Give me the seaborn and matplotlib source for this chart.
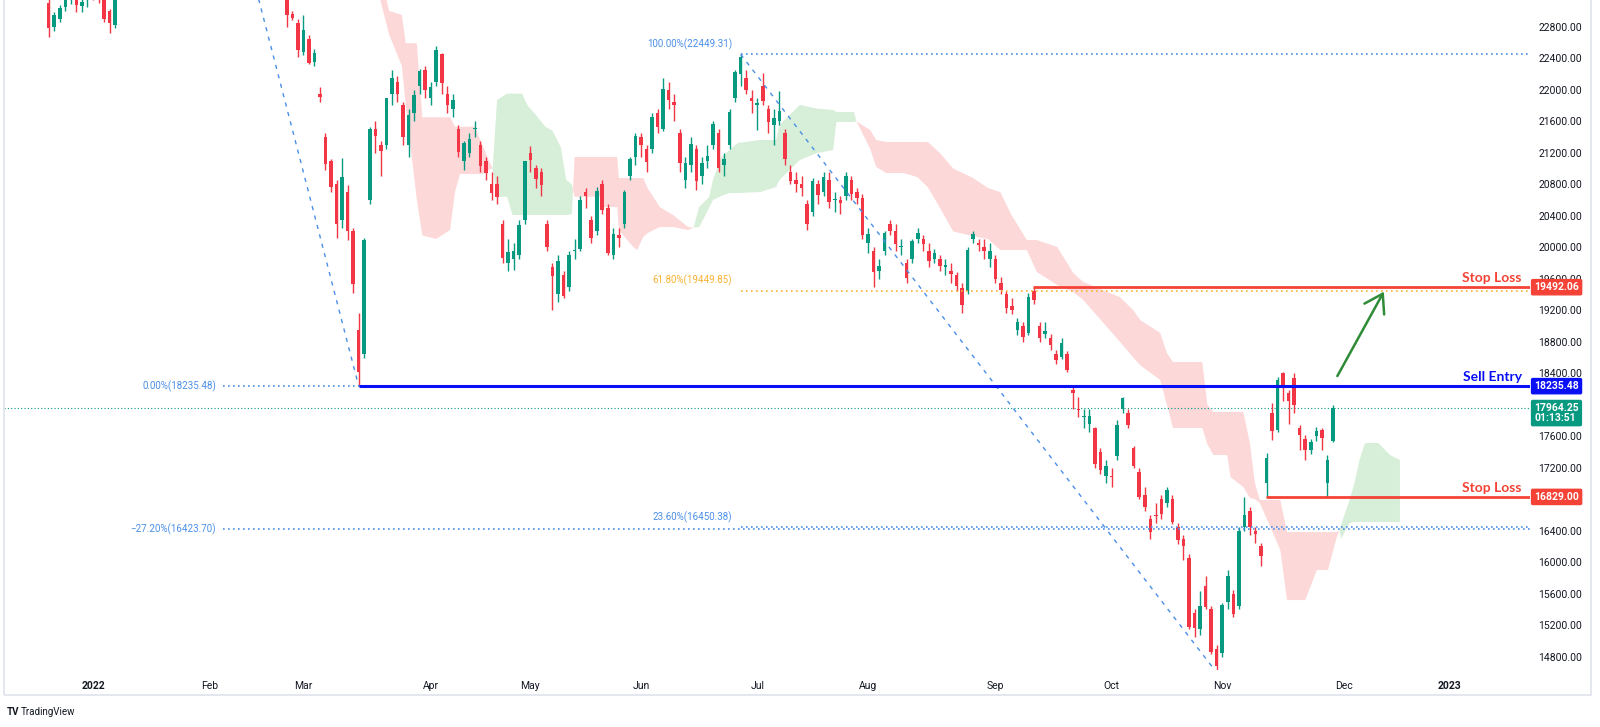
import numpy as np
import pandas as pd
import matplotlib
matplotlib.use("Agg")
import matplotlib.pyplot as plt
import matplotlib.transforms as mtransforms
from matplotlib.patches import Rectangle
import seaborn as sns

sns.set_theme(style="white")
plt.rcParams['font.family'] = ['Roboto', 'DejaVu Sans']

# ---------------- data ----------------
month_labels = ["2022", "Feb", "Mar", "Apr", "May", "Jun", "Jul", "Aug", "Sep", "Oct", "Nov", "Dec", "2023"]
month_bars = [0, 21, 38, 61, 79, 99, 120, 140, 163, 184, 204, 226, 245]
# 16800.00 and 18000.00 are hidden behind the price tags in the reference
price_ticks = [14800, 15200, 15600, 16000, 16400, 17200, 17600, 18400, 18800,
               19200, 19600, 20000, 20400, 20800, 21200, 21600, 22000, 22400, 22800]

# late Dec 2021 / early Jan 2022 bars (bar index -8 .. 4)
early_start = -8
early_open = [23100, 22790, 22900, 23050, 23220, 23250, 23060, 23150, 23420, 23300, 23250, 23000, 22820]
early_high = [23180, 22990, 23080, 23240, 23330, 23300, 23150, 23420, 23500, 23400, 23300, 23030, 23500]
early_low = [22670, 22740, 22860, 23000, 23090, 22990, 22990, 23050, 23140, 23100, 22860, 22720, 22780]
early_close = [22780, 22950, 23040, 23200, 23260, 23080, 23110, 23390, 23270, 23290, 22900, 22850, 23480]

# late Feb .. 29 Nov 2022 (bar index 35 .. 224)
main_start = 35
main_open = [23450, 22960, 22850, 22480, 22650, 22350, 21950, 21400, 21100, 20800,
             20350, 20700, 20200, 18950, 18650, 20600, 21500, 21300, 21300, 21950,
             22100, 21800, 21300, 21700, 22050, 22250, 21900, 22100, 22450, 21950,
             21750, 21500, 21100, 21200, 21500, 21300, 21100, 20800, 20800, 20300,
             19800, 19850, 19900, 20350, 21200, 21000, 20950, 20300, 19750, 19400,
             19650, 19500, 19950, 19980, 20700, 20350, 20200, 20800, 20500, 19900,
             20150, 20300, 20900, 21150, 21400, 21250, 21250, 21700, 21500, 22000,
             21850, 21450, 20850, 21050, 21250, 20900, 21100, 21300, 21450, 21050,
             21300, 21900, 22200, 22150, 21900, 21800, 22050, 21750, 21550, 21600,
             21450, 20950, 20850, 20800, 20550, 20450, 20800, 20700, 20850, 20600,
             20600, 20650, 20850, 20700, 20630, 20050, 19950, 19700, 19950, 20300,
             20200, 20000, 19800, 19850, 20100, 20100, 19950, 19850, 19850, 19750,
             19700, 19650, 19480, 19450, 20100, 20050, 20000, 19850, 19850, 19550,
             19400, 19250, 18950, 19000, 18910, 19450, 19000, 18900, 18850, 18650,
             18600, 18650, 18190, 17950, 17850, 17750, 17700, 17400, 17100, 17100,
             17350, 17950, 17900, 17450, 17150, 16850, 16550, 16600, 16800, 16750,
             16800, 16450, 16300, 16050, 15350, 15150, 15700, 15400, 14900, 14850,
             15500, 15600, 15450, 16450, 16650, 16400, 16200, 17000, 17890, 17680,
             18400, 18150, 18340, 17700, 17560, 17430, 17600, 17680, 17000, 17540]
main_high = [23500, 23000, 22900, 22950, 22700, 22520, 22030, 21450, 21120, 20850,
             21130, 20790, 20250, 19164, 20120, 21520, 21600, 21350, 21900, 22250,
             22180, 21850, 21750, 22000, 22260, 22300, 22100, 22560, 22460, 22050,
             21950, 21550, 21350, 21450, 21600, 21350, 21150, 20950, 20900, 20350,
             20100, 20050, 20350, 21100, 21280, 21050, 21000, 20350, 19800, 19900,
             19700, 19950, 20100, 20650, 20750, 20400, 20760, 20850, 20550, 20250,
             20250, 20720, 21150, 21450, 21450, 21300, 21700, 21750, 22150, 22100,
             21950, 21500, 21150, 21400, 21300, 21150, 21300, 21600, 21500, 21200,
             21750, 22250, 22449.31, 22250, 22000, 21900, 22210, 21800, 21750, 21980,
             21500, 21050, 20950, 20900, 20600, 20880, 20850, 20950, 20950, 20700,
             20650, 20950, 20900, 20750, 20680, 20250, 20000, 19850, 20200, 20350,
             20300, 20100, 19850, 20100, 20250, 20150, 20050, 19980, 19900, 19850,
             19800, 19680, 19550, 20000, 20200, 20100, 20100, 20050, 19900, 19620,
             19450, 19350, 19100, 19050, 19420, 19492.06, 19050, 19050, 18900, 18700,
             18850, 18680, 18250, 18100, 17950, 17950, 17720, 17450, 17300, 17200,
             17800, 18100, 17950, 17480, 17200, 16950, 16600, 16750, 16850, 16950,
             16850, 16500, 16350, 16110, 15400, 15640, 15830, 15450, 14950, 15480,
             15900, 15650, 16450, 16830, 16700, 16450, 16250, 17390, 18020, 18350,
             18420, 18190, 18400, 17740, 17620, 17560, 17720, 17700, 17360, 17990]
main_low = [22795, 22880, 22415, 22440, 22330, 22300, 21850, 20980, 20700, 20117,
            20250, 20090, 19420, 18235.48, 18593, 20550, 21200, 20900, 21250, 21800,
            21850, 21300, 21150, 21600, 21950, 21900, 21800, 22050, 21950, 21700,
            21650, 21150, 20980, 21150, 21400, 20950, 20850, 20600, 20550, 19800,
            19700, 19710, 19850, 20300, 20950, 20750, 20650, 19950, 19200, 19300,
            19350, 19450, 19850, 19950, 20500, 20050, 20150, 20420, 19900, 19850,
            20000, 20250, 20850, 21050, 21150, 20950, 21200, 21450, 21480, 21750,
            21600, 20950, 20750, 20950, 20720, 20800, 21000, 21250, 20950, 20900,
            21250, 21850, 22050, 21950, 21700, 21490, 21800, 21450, 21300, 21550,
            21050, 20800, 20700, 20650, 20220, 20400, 20550, 20650, 20500, 20450,
            20420, 20600, 20600, 20550, 20100, 19920, 19500, 19600, 19900, 20150,
            19950, 19900, 19550, 19800, 20050, 19950, 19750, 19800, 19700, 19650,
            19550, 19450, 19170, 19400, 20050, 19950, 19850, 19750, 19550, 19400,
            19160, 19150, 18880, 18800, 18880, 19280, 18800, 18850, 18700, 18520,
            18580, 18420, 17950, 17850, 17700, 17650, 17200, 17120, 17000, 16950,
            17300, 17900, 17700, 17200, 16800, 16650, 16300, 16500, 16550, 16700,
            16480, 16230, 16030, 15150, 15050, 15080, 15400, 14830, 14597.31, 14800,
            15400, 15300, 15400, 16400, 16350, 16250, 15950, 16829, 17550, 17650,
            18050, 17760, 17900, 17420, 17300, 17380, 17540, 17420, 16829, 17530]
main_close = [22950, 22910, 22500, 22761, 22343, 22467, 21906, 21057, 20765, 20300,
              20890, 20200, 19531, 18415, 20087, 21501, 21412, 21221, 21889, 22154,
              21946, 21404, 21684, 21928, 22232, 21997, 22039, 22502, 22080, 21808,
              21872, 21208, 21319, 21374, 21518, 21027, 20944, 20682, 20638, 19869,
              19934, 19946, 20276, 21089, 21101, 20870, 20793, 20001, 19633, 19824,
              19380, 19898, 19950, 20602, 20644, 20120, 20717, 20470, 19924, 20171,
              20116, 20697, 21123, 21415, 21294, 21082, 21653, 21531, 22014, 21869,
              21806, 21067, 21068, 21308, 20845, 21075, 21163, 21559, 21008, 21120,
              21719, 22229, 22418, 21996, 21860, 21830, 21854, 21586, 21644, 21725,
              21124, 20844, 20797, 20751, 20297, 20846, 20661, 20890, 20575, 20609,
              20562, 20906, 20670, 20622, 20156, 20165, 19689, 19767, 20174, 20201,
              20045, 20003, 19610, 20082, 20175, 20040, 19830, 19922, 19763, 19773,
              19657, 19503, 19268, 19968, 20170, 20023, 19949, 19954, 19597, 19452,
              19224, 19202, 19044, 18854, 19362, 19326, 18847, 18930, 18761, 18565,
              18781, 18444, 18147, 17933, 17855, 17860, 17250, 17165, 17223, 17079,
              17740, 18087, 17740, 17216, 16832, 16701, 16389, 16587, 16612, 16914,
              16511, 16280, 16211, 15180, 15165, 15450, 15428, 14863, 14687, 15455,
              15827, 15340, 16400, 16600, 16450, 16358, 16081, 17326, 17670, 18310,
              18256, 18045, 17993, 17620, 17424, 17524, 17661, 17574, 17297, 17964.25]

# Ichimoku cloud outline (bar position, span A, span B)
cloud_bar = [51.5, 53.5, 55.8, 56.5, 58.5, 59.5, 62, 64.5, 65.4, 66.3, 69, 70.5, 71.7, 72.2,
             73, 74.8, 75.8, 77.5, 78.5, 80, 81.7, 83, 84.5, 85.5, 86.5,
             87, 91.6, 92, 94.7, 95, 97.6, 98.3, 99.4, 100.2, 102.4, 104.8, 107.5, 108.5,
             109.5, 111.3, 112, 113.5, 115, 116.5, 120.5, 123.4, 124, 127.7, 130.8, 133.7, 134.3, 137.5, 137.9,
             140.4, 141.5, 143.3, 146.4, 148.9, 150.8, 153, 155.4, 159, 161.7, 163.9, 166, 168.7, 170.5,
             174.2, 177.1, 178.9, 185.5, 187.9, 189.2, 192.8, 194, 195.1, 200.4, 201.3, 202.4, 204.9,
             205.5, 207.8, 209, 209.9, 210.8, 214.5, 215.7, 219, 221.1, 223.1, 224.7, 225.2,
             225.5, 227, 227.9, 228.8, 229.8, 232.2, 234.3, 236.1]
cloud_a = [23250, 22700, 22300, 21800, 20600, 20150, 20104, 20218, 20700, 20930, 20930, 20930, 20990, 21000,
           21869, 21950, 21950, 21950, 21800, 21680, 21530, 21480, 21272, 20853, 20800,
           20640, 20640, 20510, 20510, 20218, 20002, 19964, 20129, 20180, 20256, 20256, 20218, 20250,
           20510, 20637, 20853, 21145, 21234, 21323, 21361, 21361, 21550, 21806, 21760, 21742, 21717, 21717, 21600,
           21250, 21018, 20942, 20942, 20891, 20764, 20500, 20200, 20140, 20104, 19964, 19964, 19964, 19685,
           19520, 19430, 19329, 18800, 18600, 18500, 18313, 18000, 17704, 17704, 17500, 17361, 17361,
           17080, 16955, 16815, 16800, 16752, 16154, 15519, 15519, 15900, 15900, 16320, 16400,
           16480, 16790, 17005, 17297, 17514, 17514, 17361, 17297]
cloud_b = [23600, 23000, 22950, 22590, 22590, 21650, 21650, 21650, 21530, 21530, 21530, 21270, 21070, 21000,
           20640, 20640, 20408, 20408, 20408, 20408, 20408, 20408, 20408, 20408, 20420,
           21145, 21145, 21145, 21145, 20878, 20878, 20878, 20878, 20750, 20510, 20408, 20256, 20250,
           20256, 20500, 20600, 20650, 20688, 20688, 20700, 20764, 20853, 21107, 21196, 21234, 21590, 21590, 21600,
           21488, 21361, 21336, 21336, 21336, 21336, 21196, 21000, 20878, 20751, 20700, 20400, 20091, 20091,
           20002, 19672, 19558, 19367, 19202, 19075, 18910, 18656, 18542, 18542, 18000, 17907, 17907,
           17907, 17907, 17514, 17005, 16790, 16790, 16383, 16383, 16383, 16383, 16383, 16400,
           16300, 16497, 16510, 16510, 16510, 16510, 16510, 16510]

# Fibonacci tools
fib1_start, fib1_end = 23.5, 48
fib1_hi, fib1_lo = 24896.0, 18235.48
fib1_levels = ["0.00%(18235.48)", "\u221227.20%(16423.70)"]
fib1_prices = [18235.48, 16423.70]
fib2_start, fib2_end = 117, 203
fib2_hi, fib2_lo = 22449.31, 14597.31
fib2_levels = ["100.00%(22449.31)", "61.80%(19449.85)", "23.60%(16450.38)", "0.00%(14597.31)"]
fib2_prices = [22449.31, 19449.85, 16450.38, 14597.31]
fib2_colors = ["#4a8fe7", "#f9b233", "#4a8fe7", "#4a8fe7"]

# trade levels
sell_entry, sell_start = 18235.48, 48
stop_hi, stop_hi_start = 19492.06, 169.8
stop_lo, stop_lo_start = 16829.00, 211.9
last_price, countdown = 17964.25, "01:13:51"
arrow_from = (224.8, 18364)
arrow_to = (233.2, 19435)

UP, DN = "#089981", "#f23645"
RED, BLUE = "#f44336", "#0a10f5"

# ---------------- figure ----------------
W, H = 1600, 727
fig = plt.figure(figsize=(16, 7.27), dpi=100)
fig.patch.set_facecolor("white")
PL, PR, PT, PB = 4, 1530, 0, 670
ax = fig.add_axes([PL / W, 1 - PB / H, (PR - PL) / W, (PB - PT) / H])
ax.set_facecolor("white")
ax.set_xlim(-16.08, 259.6)
ax.set_ylim(14631, 23139)
for s in ax.spines.values():
    s.set_visible(False)

# cloud
cb = np.array(cloud_bar); ca = np.array(cloud_a); cbb = np.array(cloud_b)
ax.fill_between(cb, ca, cbb, where=ca >= cbb, interpolate=True, color="#d7eed8", lw=0, zorder=1)
ax.fill_between(cb, ca, cbb, where=ca < cbb, interpolate=True, color="#fdd8d9", lw=0, zorder=1)


def draw_candles(start, o, h, l, c):
    o, h, l, c = map(np.asarray, (o, h, l, c))
    x = np.arange(start, start + len(o))
    col = np.where(c >= o, UP, DN)
    ax.vlines(x, l, h, colors=col, lw=1.0, zorder=3)
    ax.bar(x, np.maximum(np.abs(c - o), 10), bottom=np.minimum(o, c), width=0.64,
           color=col, linewidth=0, zorder=4)


draw_candles(early_start, early_open, early_high, early_low, early_close)
draw_candles(main_start, main_open, main_high, main_low, main_close)

xmax = ax.get_xlim()[1]
dot = (0, (1, 2))

# last price line
ax.axhline(last_price, color=UP, lw=0.8, ls=dot, zorder=2)

# fib 1
diag1 = pd.DataFrame({"x": [fib1_start, fib1_end], "y": [fib1_hi, fib1_lo]})
sns.lineplot(data=diag1, x="x", y="y", ax=ax, color="#4a8fe7", lw=1, dashes=False,
             linestyle=(0, (3, 4)), zorder=5)
for lab, p in zip(fib1_levels, fib1_prices):
    ax.plot([fib1_start, xmax], [p, p], color="#4a8fe7", lw=1.2, ls=dot, zorder=5)
    ax.annotate(lab, (fib1_start, p), xytext=(-5, 0), textcoords="offset points",
                ha="right", va="center", fontsize=7, color="#4a8fe7")

# fib 2
diag2 = pd.DataFrame({"x": [fib2_start, fib2_end], "y": [fib2_hi, fib2_lo]})
sns.lineplot(data=diag2, x="x", y="y", ax=ax, color="#4a8fe7", lw=1, dashes=False,
             linestyle=(0, (3, 4)), zorder=5)
for lab, p, col in zip(fib2_levels, fib2_prices, fib2_colors):
    ax.plot([fib2_start, xmax], [p, p], color=col, lw=1.2, ls=dot, zorder=5)
    ax.annotate(lab, (fib2_start, p), xytext=(-6, 3), textcoords="offset points",
                ha="right", va="bottom", fontsize=7, color=col)
ax.set_xlabel("")
ax.set_ylabel("")

# trade lines
ax.plot([sell_start, xmax], [sell_entry, sell_entry], color=BLUE, lw=2.2, zorder=6,
        solid_capstyle="butt")
ax.plot([stop_hi_start, xmax], [stop_hi, stop_hi], color=RED, lw=2.0, zorder=6,
        solid_capstyle="butt")
ax.plot([stop_lo_start, xmax], [stop_lo, stop_lo], color=RED, lw=2.0, zorder=6,
        solid_capstyle="butt")

btr = mtransforms.blended_transform_factory(ax.transAxes, ax.transData)
xr = (1522 - PL) / (PR - PL)
lab_font = dict(family=["Lato", "DejaVu Sans"], fontsize=10, fontweight="bold")
ax.annotate("Stop Loss", (xr, stop_hi), xycoords=btr, xytext=(0, 2), textcoords="offset points",
            ha="right", va="bottom", color=RED, zorder=7, **lab_font)
ax.annotate("Sell Entry", (xr, sell_entry), xycoords=btr, xytext=(0, 2), textcoords="offset points",
            ha="right", va="bottom", color=BLUE, zorder=7, **lab_font)
ax.annotate("Stop Loss", (xr, stop_lo), xycoords=btr, xytext=(0, 2), textcoords="offset points",
            ha="right", va="bottom", color=RED, zorder=7, **lab_font)

# arrow
ax.annotate("", xy=arrow_to, xytext=arrow_from,
            arrowprops=dict(arrowstyle="->,head_length=0.7,head_width=0.45", color="#2e8b36",
                            lw=1.8, mutation_scale=18, shrinkA=0, shrinkB=0), zorder=7)

# axes ticks
ax.yaxis.tick_right()
ax.set_yticks(price_ticks)
ax.set_yticklabels([f"{t:.2f}" for t in price_ticks], fontsize=7.5, color="#131722")
ax.tick_params(axis="y", length=0, pad=6)
ax.set_xticks(month_bars)
ax.set_xticklabels(month_labels, fontsize=7.5, color="#131722")
for t in ax.get_xticklabels():
    if t.get_text() in ("2022", "2023"):
        t.set_fontweight("bold")
ax.tick_params(axis="x", length=0, pad=8)
ax.grid(False)


# price tags on the right axis
def tag(price, text, color, dy=0):
    ax.annotate(text, (1.0, price), xycoords=btr, xytext=(3, dy), textcoords="offset points",
                ha="left", va="center", fontsize=7.5, color="white", fontweight="bold",
                linespacing=1.0,
                bbox=dict(boxstyle="round,pad=0.25,rounding_size=0.12", fc=color, ec=color),
                annotation_clip=False, zorder=10)


tag(stop_hi, f"{stop_hi:.2f}", RED)
tag(sell_entry, f"{sell_entry:.2f}", BLUE)
tag(last_price, f"{last_price:.2f}\n{countdown}", UP, dy=-4)
tag(stop_lo, f"{stop_lo:.2f}", RED)

# frame & logo
fig.add_artist(Rectangle((PL / W, 1 - 695 / H), (1591 - PL) / W, 695 / H + 0.02, fill=False,
                         ec="#e0e3eb", lw=1.2, transform=fig.transFigure))
fig.text(7 / W, 1 - 712 / H, "TV", fontsize=7, fontweight="bold", color="#131722", va="center")
fig.text(21 / W, 1 - 712 / H, "TradingView", fontsize=7, color="#131722", va="center")

fig.savefig("out.png", dpi=100, facecolor="white")
